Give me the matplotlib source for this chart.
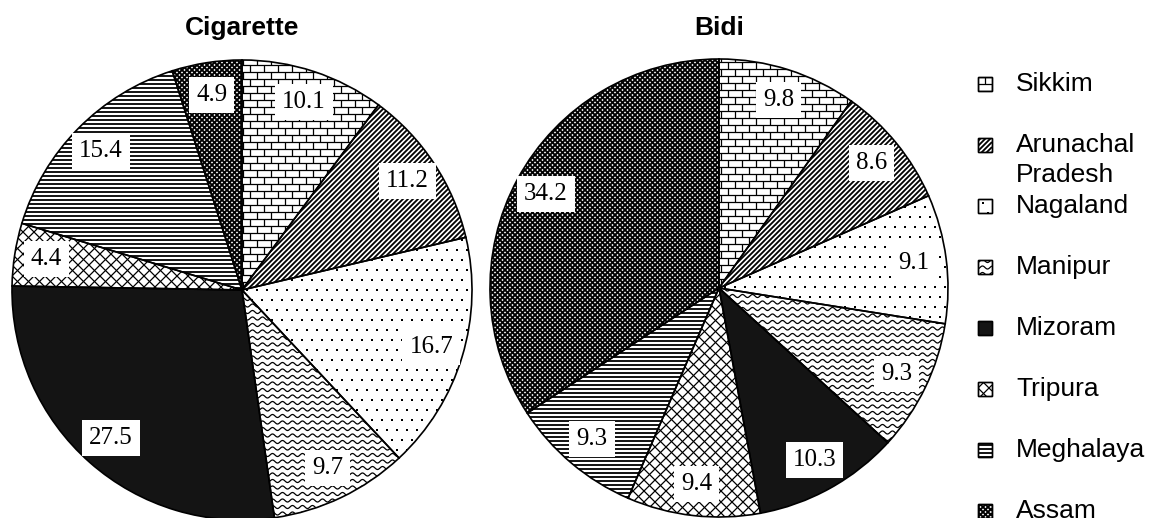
import numpy as np
import matplotlib
matplotlib.use("Agg")
import matplotlib.pyplot as plt
from matplotlib.collections import LineCollection
from matplotlib.patches import Rectangle, Wedge

# State-wise shares (%) of tobacco use in the North-East
states = ["Sikkim", "Arunachal\nPradesh", "Nagaland", "Manipur",
          "Mizoram", "Tripura", "Meghalaya", "Assam"]
cigarette = [10.1, 11.2, 16.7, 9.7, 27.5, 4.4, 15.4, 4.9]
bidi = [9.8, 8.6, 9.1, 9.3, 10.3, 9.4, 9.3, 34.2]
titles = ["Cigarette", "Bidi"]

# fill texture per state
textures = ["brick", "diag", "dots", "wave", "solid", "lattice", "hlines", "checker"]

W, H = 1149, 518

fig = plt.figure(figsize=(W / 100, H / 100), dpi=100)
ax = fig.add_axes([0, 0, 1, 1])
ax.set_xlim(0, W)
ax.set_ylim(0, H)
ax.set_aspect("equal")
ax.axis("off")


def diagonals(x0, x1, y0, y1, step, sign):
    # lines of slope +1 / -1 covering the box
    segs = []
    w = x1 - x0
    for c in np.arange(-w - step, (y1 - y0) + w + step, step):
        if sign > 0:
            segs.append([(x0, y0 + c), (x1, y0 + c + w)])
        else:
            segs.append([(x0, y0 + c), (x1, y0 + c - w)])
    return segs


def texture(patch, kind, x0, x1, y0, y1):
    if kind == "solid":
        patch.set_facecolor("#141414")
        return
    patch.set_facecolor("white")
    z = 2
    segs, lw = [], 0.7
    if kind == "brick":
        row, brick = 7.0, 14.0
        for i, y in enumerate(np.arange(y0, y1 + row, row)):
            segs.append([(x0, y), (x1, y)])
            off = 0 if i % 2 == 0 else brick / 2
            for x in np.arange(x0 + off, x1 + brick, brick):
                segs.append([(x, y), (x, y + row)])
        lw = 0.9
    elif kind == "wave":
        xs = np.linspace(x0, x1, int((x1 - x0) * 2) + 2)
        for y in np.arange(y0, y1 + 6.5, 6.5):
            segs.append(np.column_stack([xs, y + 1.5 * np.sin(2 * np.pi * xs / 10.0)]))
        lw = 0.9
    elif kind == "diag":
        segs = diagonals(x0, x1, y0, y1, 5.0, 1)
        lw = 1.3
    elif kind == "lattice":
        segs = diagonals(x0, x1, y0, y1, 11.0, 1) + diagonals(x0, x1, y0, y1, 11.0, -1)
        lw = 0.9
    elif kind == "hlines":
        segs = [[(x0, y), (x1, y)] for y in np.arange(y0, y1 + 4, 4.0)]
        lw = 1.3
    elif kind == "checker":
        segs = diagonals(x0, x1, y0, y1, 5.0, 1) + diagonals(x0, x1, y0, y1, 5.0, -1)
        lw = 1.4
    elif kind == "dots":
        pts = []
        for i, y in enumerate(np.arange(y0, y1 + 10, 10.0)):
            off = 0 if i % 2 == 0 else 5.0
            pts += [(x, y) for x in np.arange(x0 + off, x1 + 10, 10.0)]
        pts = np.array(pts)
        sc = ax.scatter(pts[:, 0], pts[:, 1], s=2.0, marker="s", c="black",
                        linewidths=0, zorder=z)
        sc.set_clip_path(patch)
        return
    lc = LineCollection(segs, colors="black", linewidths=lw, zorder=z)
    ax.add_collection(lc)
    lc.set_clip_path(patch)


def draw_pie(values, center, radius, title):
    cx, cy = center
    wedges, _ = ax.pie(values, startangle=90, counterclock=False,
                       center=center, radius=radius, normalize=True,
                       wedgeprops=dict(edgecolor="none", linewidth=0))
    ax.set_xlim(0, W)
    ax.set_ylim(0, H)
    for w, kind, v in zip(wedges, textures, values):
        w.set_zorder(1)
        texture(w, kind, cx - radius, cx + radius, cy - radius, cy + radius)
        # outline on top of the texture
        ax.add_patch(Wedge(w.center, w.r, w.theta1, w.theta2, fill=False,
                           edgecolor="black", linewidth=1.2, zorder=3))
        mid = np.deg2rad((w.theta1 + w.theta2) / 2)
        ax.text(cx + 0.86 * radius * np.cos(mid), cy + 0.86 * radius * np.sin(mid),
                f"{v:.1f}", ha="center", va="center", fontsize=18,
                family="Liberation Serif", zorder=5,
                bbox=dict(boxstyle="square,pad=0.28", fc="white", ec="none"))
    ax.text(cx, H - 28, title, ha="center", va="center", fontsize=19,
            fontweight="bold", family="Liberation Sans")


draw_pie(cigarette, (242, H - 290), 230, titles[0])
draw_pie(bidi, (719, H - 288), 229, titles[1])

# legend column on the right
for i, (name, kind) in enumerate(zip(states, textures)):
    y = H - (84 + 61 * i)
    rect = Rectangle((978, y - 7), 14, 14, edgecolor="black", linewidth=1.0, zorder=1)
    ax.add_patch(rect)
    texture(rect, kind, 978, 992, y - 7, y + 7)
    ax.add_patch(Rectangle((978, y - 7), 14, 14, fill=False, edgecolor="black",
                           linewidth=1.0, zorder=3))
    for j, line in enumerate(name.split("\n")):
        ax.text(1016, y - 30 * j, line, ha="left", va="center", fontsize=19,
                family="Liberation Sans")

fig.savefig("out.png", dpi=100)
